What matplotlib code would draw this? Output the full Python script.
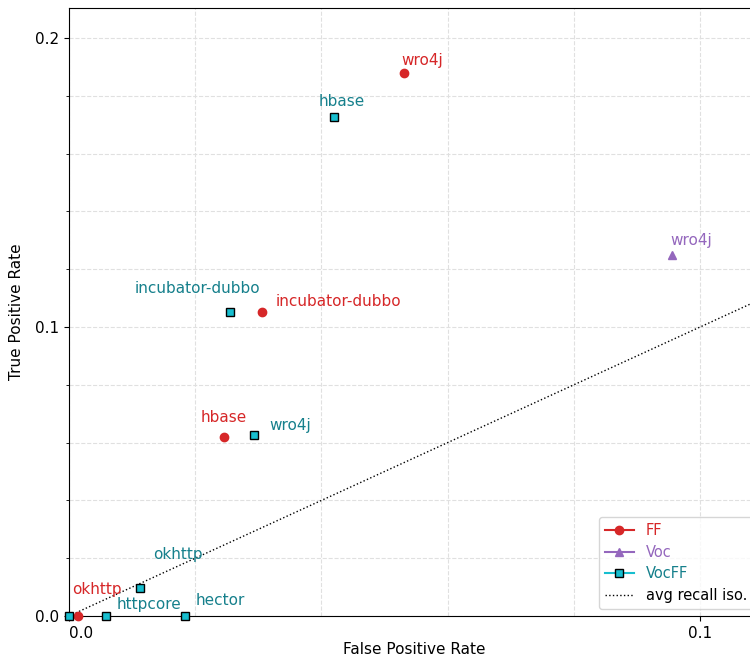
import matplotlib
matplotlib.use("Agg")
import matplotlib.pyplot as plt
from matplotlib.lines import Line2D
from matplotlib.ticker import MultipleLocator

# data (false positive rate, true positive rate)
ff_names = ["wro4j", "incubator-dubbo", "hbase", "okhttp"]
ff_fpr = [0.0531, 0.0306, 0.0245, 0.0014]
ff_tpr = [0.1879, 0.1053, 0.0621, 0.0]

voc_names = ["wro4j"]
voc_fpr = [0.0956]
voc_tpr = [0.1250]

vocff_names = ["hbase", "incubator-dubbo", "wro4j", "okhttp", "httpcore", "hector", ""]
vocff_fpr = [0.0420, 0.0255, 0.0293, 0.0113, 0.0058, 0.0184, 0.0]
vocff_tpr = [0.1726, 0.1053, 0.0625, 0.0098, 0.0, 0.0, 0.0]

avg_recall_slope = 1.0

# label offsets in pixels (dx, dy) from each point
ff_offsets = [(-3, 8), (14, 6), (-23, 15), (-6, 22)]
voc_offsets = [(-2, 10)]
vocff_offsets = [(-15, 11), (-95, 19), (15, 5), (13, 29), (11, 7), (11, 11), (0, 0)]

red = "#d62728"
purple = "#9467bd"
cyan = "#17becf"
teal = "#16808c"
fs = 11

fig = plt.figure(figsize=(7.5, 6.56), dpi=100)
ax = fig.add_axes([69 / 750, 40 / 656, 691 / 750, 608 / 656])

xmax = 0.1095
ymax = 0.2104
ax.plot([0, xmax], [0, xmax * avg_recall_slope], ls=":", color="black", lw=1, zorder=2)

ax.plot(ff_fpr, ff_tpr, ls="none", marker="o", ms=6, color=red, zorder=3, clip_on=False)
ax.plot(voc_fpr, voc_tpr, ls="none", marker="^", ms=6, color=purple, zorder=3, clip_on=False)
ax.plot(vocff_fpr, vocff_tpr, ls="none", marker="s", ms=6, mfc=cyan, mec="black",
        mew=1, zorder=4, clip_on=False)

def put_labels(names, xs, ys, offsets, color):
    for n, x, y, (dx, dy) in zip(names, xs, ys, offsets):
        if not n:
            continue
        ax.annotate(n, (x, y), xytext=(dx, dy), textcoords="offset pixels",
                    ha="left", va="baseline", fontsize=fs, color=color)

put_labels(ff_names, ff_fpr, ff_tpr, ff_offsets, red)
put_labels(voc_names, voc_fpr, voc_tpr, voc_offsets, purple)
put_labels(vocff_names, vocff_fpr, vocff_tpr, vocff_offsets, teal)

ax.set_xlim(0, xmax)
ax.set_ylim(0, ymax)
ax.xaxis.set_major_locator(MultipleLocator(0.1))
ax.xaxis.set_minor_locator(MultipleLocator(0.02))
ax.yaxis.set_major_locator(MultipleLocator(0.1))
ax.yaxis.set_minor_locator(MultipleLocator(0.02))
ax.tick_params(axis="x", which="minor", length=0)
ax.tick_params(axis="both", which="major", labelsize=fs)
ax.grid(True, which="both", ls="--", color="#e0e0e0", lw=0.8, zorder=0)
ax.set_axisbelow(True)
ax.set_xticks([0.0, 0.1])
ax.set_xticklabels(["0.0", "0.1"])
ax.get_xticklabels()[0].set_horizontalalignment("left")
ax.set_yticks([0.0, 0.1, 0.2])
ax.set_yticklabels(["0.0", "0.1", "0.2"])

ax.set_xlabel("False Positive Rate", fontsize=fs, labelpad=1)
ax.set_ylabel("True Positive Rate", fontsize=fs, labelpad=8)

handles = [
    Line2D([], [], color=red, marker="o", ms=6, lw=1.5),
    Line2D([], [], color=purple, marker="^", ms=6, lw=1.5),
    Line2D([], [], color=cyan, marker="s", ms=6, mfc=cyan, mec="black", lw=1.5),
    Line2D([], [], color="black", ls=":", lw=1),
]
leg = ax.legend(handles, ["FF", "Voc", "VocFF", "avg recall iso."], loc="lower right",
                fontsize=10.5, labelspacing=0.45)
for txt, c in zip(leg.get_texts(), [red, purple, teal, "black"]):
    txt.set_color(c)

fig.savefig("out.png", dpi=100)
